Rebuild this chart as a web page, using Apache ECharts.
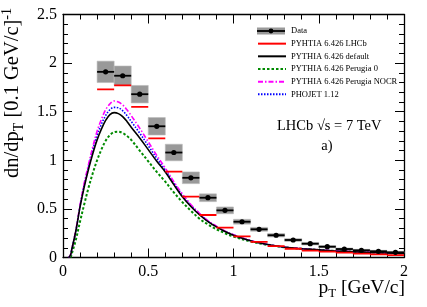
<!DOCTYPE html>
<html><head><meta charset="utf-8">
<script src="https://cdn.jsdelivr.net/npm/echarts@6/dist/echarts.min.js"></script>
<style>html,body{margin:0;padding:0;background:#fff}#c{width:427px;height:307px}</style>
</head><body><div id="c"></div>
<script>
// ---- data ----
const binCenters = [0.25,0.35,0.45,0.55,0.65,0.75,0.85,0.95,1.05,1.15,1.25,1.35,1.45,1.55,1.65,1.75,1.85,1.95];
const dataValues = [1.91,1.87,1.68,1.35,1.08,0.82,0.615,0.485,0.368,0.29,0.229,0.18,0.142,0.111,0.087,0.074,0.064,0.053];
const dataSyst   = [0.11,0.10,0.09,0.09,0.085,0.06,0.04,0.035,0.025,0.02,0.018,0.015,0.013,0.012,0.011,0.01,0.01,0.01];
const binWidth = 0.1;
const lhcbBinLow = [0.2,0.3,0.4,0.5,0.6,0.7,0.8,0.9,1.0,1.1,1.2,1.3,1.4,1.5,1.6,1.7,1.8,1.9];
const lhcbValues = [1.73,1.77,1.55,1.226,0.883,0.626,0.437,0.307,0.218,0.16,0.118,0.09,0.07,0.06,0.05,0.039,0.032,0.025];
const curveX = [0.035,0.045,0.05,0.075,0.1,0.125,0.15,0.175,0.2,0.225,0.25,0.275,0.3,0.325,0.35,0.375,0.4,0.45,0.5,0.55,0.6,0.65,0.7,0.75,0.8,0.85,0.9,0.95,1.0,1.1,1.2,1.3,1.4,1.5,1.6,1.7,1.8,1.9,2.0];
const defaultValues = [0,0.03,0.07,0.27,0.52,0.73,0.91,1.07,1.21,1.32,1.41,1.47,1.49,1.48,1.45,1.40,1.34,1.23,1.11,0.99,0.88,0.75,0.625,0.525,0.44,0.37,0.315,0.268,0.23,0.172,0.133,0.105,0.09,0.078,0.067,0.059,0.052,0.046,0.041];
const perugia0Values = [null,0,0.03,0.18,0.37,0.55,0.72,0.87,1.0,1.11,1.2,1.26,1.29,1.295,1.28,1.25,1.21,1.10,0.99,0.88,0.78,0.67,0.57,0.48,0.40,0.34,0.29,0.25,0.215,0.165,0.13,0.105,0.09,0.078,0.067,0.059,0.052,0.046,0.041];
const nocrValues = [0,0.03,0.07,0.28,0.54,0.77,0.96,1.14,1.30,1.42,1.52,1.58,1.61,1.60,1.57,1.52,1.46,1.33,1.19,1.05,0.92,0.78,0.655,0.545,0.455,0.38,0.322,0.273,0.234,0.175,0.135,0.107,0.091,0.079,0.068,0.06,0.053,0.047,0.042];
const phojetValues = [0,0.03,0.07,0.27,0.53,0.75,0.94,1.11,1.26,1.37,1.46,1.52,1.545,1.54,1.51,1.46,1.40,1.28,1.15,1.02,0.90,0.765,0.64,0.535,0.45,0.375,0.318,0.27,0.232,0.173,0.134,0.106,0.09,0.078,0.067,0.059,0.052,0.046,0.041];
const xTicks = [0,0.5,1,1.5,2];
const yTicks = [0,0.5,1,1.5,2,2.5];
const names = ['Data','PYHTIA 6.426 LHCb','PYTHIA 6.426 default','PYTHIA 6.426 Perugia 0','PYTHIA 6.426 Perugia NOCR','PHOJET 1.12'];

// ---- chart ----
const F = 'Liberation Serif';
const chart = echarts.init(document.getElementById('c'), null, {renderer:'canvas'});
const pts = v => curveX.map((x,i)=>[x, v[i]]);
const lhcbLine = [];
lhcbBinLow.forEach((lo,i)=>{ lhcbLine.push([lo,lhcbValues[i]],[lo+binWidth,lhcbValues[i]],'-'); });
const dataRows = binCenters.map((x,i)=>[x,dataValues[i],dataSyst[i]]);

function axisCommon(pos, show){
  return {
    type:'value', position:pos, scale:false,
    axisLine:{show:true, onZero:false, lineStyle:{color:'#000', width:1.3}},
    axisTick:{show:true, inside:true, length:9, lineStyle:{color:'#000', width:1}},
    minorTick:{show:true, splitNumber:5, length:5, lineStyle:{color:'#000', width:1}},
    splitLine:{show:false},
    axisLabel:{show:show, color:'#000', fontFamily:F, fontSize:16, margin:6},
  };
}
const xa = Object.assign(axisCommon('bottom', true), {min:xTicks[0], max:xTicks[xTicks.length-1], interval:xTicks[1]-xTicks[0]});
const xb = Object.assign(axisCommon('top', false), {min:xTicks[0], max:xTicks[xTicks.length-1], interval:xTicks[1]-xTicks[0]});
const ya = Object.assign(axisCommon('left', true), {min:yTicks[0], max:yTicks[yTicks.length-1], interval:yTicks[1]-yTicks[0]});
const yb = Object.assign(axisCommon('right', false), {min:yTicks[0], max:yTicks[yTicks.length-1], interval:yTicks[1]-yTicks[0]});

const lineSeries = (name, vals, color, type, width, z) => ({
  type:'line', name, data:pts(vals), smooth:0.35, showSymbol:false, symbol:'none',
  connectNulls:false, lineStyle:{color, width, type}, itemStyle:{color}, z, silent:true, animation:false
});

chart.setOption({
  animation:false,
  grid:{left:63, right:23, top:14.5, bottom:49.5, containLabel:false},
  xAxis:[xa, xb],
  yAxis:[ya, yb],
  legend:{
    show:true, orient:'vertical', left:257, top:26.5, padding:0, itemWidth:28, itemHeight:8, itemGap:3.66,
    selectedMode:false, itemStyle:{opacity:0},
    textStyle:{fontFamily:F, fontSize:8.5, lineHeight:9, color:'#000'},
    data:[
      {name:names[0], icon:'none'},
      {name:names[1]},{name:names[2]},{name:names[3]},{name:names[4]},{name:names[5]}
    ]
  },
  series:[
    {type:'custom', name:names[0], data:dataRows, z:1, itemStyle:{color:'#999'},
     renderItem(params, api){
       const x=api.value(0), y=api.value(1), s=api.value(2);
       const p1=api.coord([x-binWidth/2, y+s]), p2=api.coord([x+binWidth/2, y-s]);
       return {type:'rect', shape:{x:p1[0], y:p1[1], width:p2[0]-p1[0], height:p2[1]-p1[1]},
               style:{fill:'#999', stroke:'#bbb', lineWidth:0.6}};
     }},
    lineSeries(names[3], perugia0Values, '#008a00', [2.5,2], 2, 3),
    lineSeries(names[5], phojetValues, '#0000ff', [1.5,1.5], 1.6, 3),
    lineSeries(names[4], nocrValues, '#ff00ff', [5,2,1.5,2], 1.6, 3),
    lineSeries(names[2], defaultValues, '#000000', 'solid', 1.6, 4),
    {type:'line', name:names[1], data:lhcbLine, showSymbol:false, symbol:'none', connectNulls:false,
     lineStyle:{color:'#ff0000', width:1.8}, itemStyle:{color:'#ff0000'}, z:5, silent:true},
    {type:'custom', name:'DataPoints', data:dataRows, z:6,
     renderItem(params, api){
       const x=api.value(0), y=api.value(1);
       const a=api.coord([x-binWidth/2, y]), b=api.coord([x+binWidth/2, y]), c=api.coord([x,y]);
       return {type:'group', children:[
         {type:'line', shape:{x1:a[0], y1:a[1], x2:b[0], y2:b[1]}, style:{stroke:'#000', lineWidth:1.8}},
         {type:'circle', shape:{cx:c[0], cy:c[1], r:2.6}, style:{fill:'#000'}}
       ]};
     }}
  ],
  graphic:[
    {type:'rect', shape:{x:257, y:27.5, width:28, height:7}, style:{fill:'#999'}, z:99},
    {type:'line', shape:{x1:257, y1:31, x2:285, y2:31}, style:{stroke:'#000', lineWidth:1.8}, z:100},
    {type:'circle', shape:{cx:271, cy:31, r:2.4}, style:{fill:'#000'}, z:100},
    {type:'text', x:277, y:126, style:{text:'LHCb √s = 7 TeV', fontFamily:F, fontSize:14.5, fill:'#000', align:'left', verticalAlign:'middle'}},
    {type:'text', x:327, y:146, style:{text:'a)', fontFamily:F, fontSize:14.5, fill:'#000', align:'center', verticalAlign:'middle'}},
    {type:'text', x:405, y:288, style:{text:'{a|p}{s|T}{a| [GeV/c]}', align:'right', verticalAlign:'middle', fill:'#000',
      rich:{a:{fontFamily:F, fontSize:19.5, fill:'#000'}, s:{fontFamily:F, fontSize:13, fill:'#000', padding:[11,0,0,0]}}}},
    {type:'text', x:13, y:8, rotation:Math.PI/2, style:{text:'{a|dn/dp}{s|T}{a| [0.1 GeV/c]}{p|-1}', align:'right', verticalAlign:'middle', fill:'#000',
      rich:{a:{fontFamily:F, fontSize:20.5, fill:'#000'}, s:{fontFamily:F, fontSize:14, fill:'#000', padding:[12,0,0,0]}, p:{fontFamily:F, fontSize:14, fill:'#000', padding:[0,0,12,0]}}}}
  ]
});
</script></body></html>
